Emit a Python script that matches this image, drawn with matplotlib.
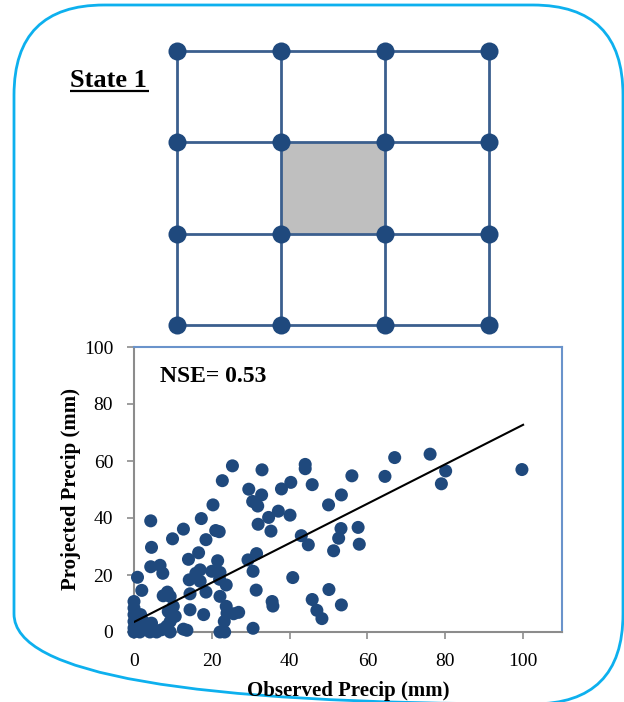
import numpy as np
import matplotlib
matplotlib.use('Agg')
import matplotlib.pyplot as plt
from matplotlib.patches import FancyBboxPatch, Rectangle

plt.rcParams['font.family'] = ['Liberation Serif', 'DejaVu Serif']

# observed vs projected daily precip (mm)
observed = [99.7, 76.1, 67.0, 80.1, 79.0, 64.5, 56.0, 44.0, 44.0, 45.8,
            40.3, 37.9, 32.9, 25.3, 22.7, 29.5, 32.8, 30.5, 31.8, 37.1,
            40.1, 34.6, 31.9, 35.2, 50.0, 53.3, 53.2, 57.6, 57.9, 52.6,
            51.3, 43.0, 44.8, 40.8, 50.1, 45.8, 53.3, 47.0, 48.3, 35.5,
            35.7, 31.4, 30.6, 31.5, 29.3, 30.6, 20.3, 17.3, 12.7, 21.0,
            21.9, 9.9, 18.5, 4.3, 4.5, 4.3, 6.7, 7.4, 0.9, 2.0,
            16.6, 14.0, 21.5, 17.0, 15.9, 20.0, 22.1, 14.2, 17.0, 23.7,
            22.0, 18.5, 14.4, 8.6, 7.5, 9.3, 22.1, 14.4, 17.9, 23.7,
            23.9, 25.6, 26.9, 23.2, 22.1, 23.3, 10.1, 8.8, 10.6, 9.3,
            8.4, 9.3, 7.1, 13.6, 12.7, 0.0, 0.0, 0.0, 1.7, 2.4,
            0.0, 0.0, 0.0, 1.5, 3.3, 4.1, 5.0, 1.1, 4.5, 5.8]
projected = [57.0, 62.4, 61.2, 56.5, 52.0, 54.6, 54.8, 58.8, 57.3, 51.7,
             52.5, 50.2, 56.9, 58.3, 53.1, 50.1, 48.1, 45.8, 44.2, 42.4,
             41.0, 40.2, 37.8, 35.4, 44.6, 48.1, 36.3, 36.7, 30.8, 32.9,
             28.5, 33.8, 30.6, 19.1, 14.9, 11.4, 9.5, 7.6, 4.7, 10.7,
             9.1, 14.7, 21.3, 27.5, 25.3, 1.3, 44.6, 39.8, 36.1, 35.6,
             35.2, 32.7, 32.4, 39.0, 29.7, 22.9, 23.4, 20.6, 19.2, 14.6,
             27.8, 25.5, 25.0, 21.8, 20.6, 21.3, 20.9, 18.3, 17.8, 16.5,
             18.5, 14.0, 13.4, 14.0, 12.7, 12.5, 12.5, 7.8, 6.1, 9.0,
             6.6, 6.4, 6.9, 3.7, 0.0, 0.0, 9.0, 7.2, 5.5, 3.7,
             2.0, 0.0, 0.8, 0.6, 1.0, 10.7, 8.4, 6.1, 6.1, 3.7,
             3.7, 1.4, 0.0, 0.0, 2.0, 0.0, 0.8, 2.0, 3.1, 0.0]

# linear trendline
fit_intercept = 3.5
fit_slope = 0.692
fit_x = [0, 100]

nse = 0.53
xticks = [0, 20, 40, 60, 80, 100]
yticks = [0, 20, 40, 60, 80, 100]

# 4x4 grid of nodes, selected cell in the middle
grid_n = 4
selected_cell = (1, 1)

W, H = 624, 702
fig = plt.figure(figsize=(W / 100.0, H / 100.0), dpi=100)

# background layer in pixel units: rounded frame + title
bg = fig.add_axes([0, 0, 1, 1])
bg.set_xlim(0, W)
bg.set_ylim(H, 0)
bg.axis('off')
frame = FancyBboxPatch((14, 5), 609, 699, boxstyle='round,pad=0,rounding_size=90',
                       fc='none', ec='#0DB0EE', lw=2.0, clip_on=False)
bg.add_patch(frame)
bg.text(70, 87, 'State 1', fontsize=19, fontweight='bold', ha='left', va='baseline')
bg.plot([70, 149], [91, 91], color='black', lw=1.6, solid_capstyle='butt')

# grid diagram
gax = fig.add_axes([177 / W, 1 - 325 / H, 312 / W, 274 / H])
gax.set_xlim(0, grid_n - 1)
gax.set_ylim(0, grid_n - 1)
gax.axis('off')
cx, cy = selected_cell
gax.add_patch(Rectangle((cx, cy), 1, 1, fc='#BFBFBF', ec='none'))
for i in range(grid_n):
    gax.plot([0, grid_n - 1], [i, i], color='#3B5F8E', lw=2.0, clip_on=False)
    gax.plot([i, i], [0, grid_n - 1], color='#3B5F8E', lw=2.0, clip_on=False)
gx, gy = np.meshgrid(range(grid_n), range(grid_n))
gax.plot(gx.ravel(), gy.ravel(), 'o', color='#1F497D', ms=13, mec='none', clip_on=False)

# scatter plot
ax = fig.add_axes([134 / W, 1 - 632 / H, 428 / W, 285 / H])
ax.scatter(observed, projected, s=88, color='#1F497D', edgecolors='none',
           clip_on=False, zorder=3)
fit_y = [fit_intercept + fit_slope * x for x in fit_x]
ax.plot(fit_x, fit_y, color='black', lw=1.5, zorder=4)
ax.set_xlim(0, 110)
ax.set_ylim(0, 100)
ax.set_xticks(xticks)
ax.set_yticks(yticks)
ax.tick_params(direction='out', length=5, width=1.2, color='#8C8C8C',
               labelsize=14, pad=10)
for side in ['left', 'bottom']:
    ax.spines[side].set_color('#8C8C8C')
    ax.spines[side].set_linewidth(1.5)
for side in ['top', 'right']:
    ax.spines[side].set_color('#6A93CB')
    ax.spines[side].set_linewidth(1.5)
ax.set_xlabel('Observed Precip (mm)', fontsize=15, fontweight='bold', labelpad=8)
ax.set_ylabel('Projected Precip (mm)', fontsize=15, fontweight='bold', labelpad=2)
ax.text(0.061, 0.895, 'NSE= %.2f' % nse, transform=ax.transAxes, fontsize=17,
        fontweight='bold', ha='left', va='center')

fig.savefig('out.png', dpi=100)
